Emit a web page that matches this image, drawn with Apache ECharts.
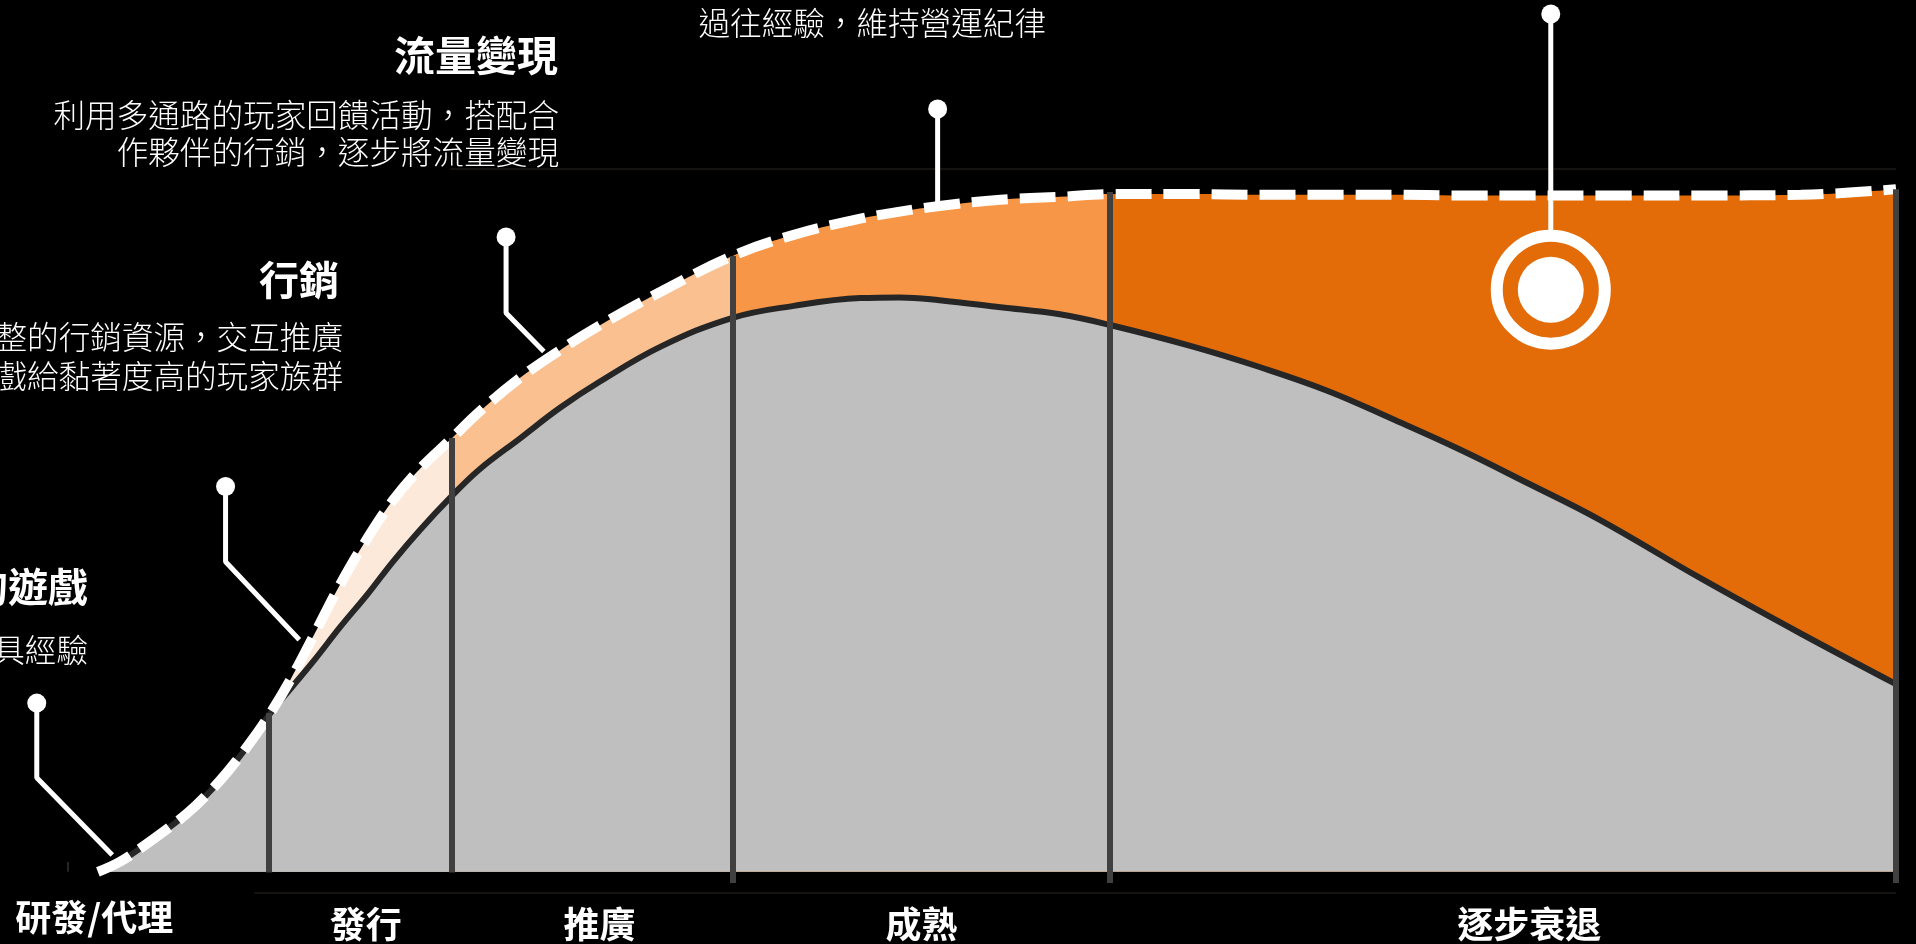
<!DOCTYPE html>
<html lang="zh-Hant-TW">
<head>
<meta charset="utf-8">
<script src="https://cdn.jsdelivr.net/npm/echarts@6/dist/echarts.min.js"></script>
<style>
html,body{margin:0;padding:0;background:#000;}
#c{width:1916px;height:944px;}
</style>
</head>
<body>
<div id="c" lang="zh-Hant-TW"></div>
<script>
// ---- data ----
const timeX = [0,1.2,2.5,3.7,5.0,6.1,7.2,8.5,9.6,10.7,12.0,13.5,15.0,16.4,17.9,19.7,21.2,23.5,25.7,27.9,31.3,35.3,38.7,42.4,44.6,46.8,50.2,53.5,56.4,60.9,64.6,68.4,72.0,75.8,79.5,83.5,89.1,94.7,100];
const potential = [0,1.4,3.6,5.8,8.4,11.1,14.2,18.5,22.6,27.3,33.6,41.0,47.5,52.8,57.3,61.7,65.4,70.3,74.2,77.7,82.5,87.6,90.6,92.9,93.9,94.7,95.6,96.0,96.4,96.4,96.3,96.3,96.3,96.2,96.2,96.2,96.2,96.3,97.1];
const base = [0,1.4,3.6,5.8,8.4,11.1,14.2,18.5,22.6,26.0,30.0,34.9,39.5,44.1,48.6,53.5,57.2,61.7,66.0,69.7,74.7,78.8,80.5,81.6,81.7,81.3,80.3,79.3,77.7,74.7,71.8,68.4,64.4,60.0,55.3,50.1,41.8,33.9,26.7];
const stageNames = ['研發/代理','發行','推廣','成熟','逐步衰退'];
const stageBounds = [9.5,19.7,35.3,56.3,100];
const stageTop = [22.6,61.7,87.6,96.7,97.1];
const stageBottom = [-0.1,-0.1,-1.6,-1.6,-1.6];
const stageColors = ['#BFBFBF','#FDE9D9','#FAC090','#F79646','#E36C09'];
const callouts = [
  [[-3.4,24.0],[-3.4,13.4],[0.8,2.4]],
  [[7.1,54.8],[7.1,44.1],[11.2,33.0]],
  [[22.7,90.3],[22.7,79.5],[24.8,74.0]],
  [[46.7,108.5],[46.7,95.2]],
  [[80.8,122.0],[80.8,91.3]]
];
const target = [80.8,82.8];

// ---- layout ----
const FONT = '"Noto Sans CJK TC","Noto Sans CJK SC",sans-serif';
const LIGHT = '"Noto Sans CJK TC Light","Noto Sans CJK TC DemiLight","Noto Sans CJK TC","Noto Sans CJK SC",sans-serif';
const stageLabelAt = [-0.2,14.9,27.9,45.8,79.6];
const stageLabelY = [917,924,924,924,924];

const envData = timeX.map((x,i)=>[x,potential[i]]);
const baseData = timeX.map((x,i)=>[x,base[i]]);

const pieces = stageColors.map((c,i)=>{
  const p = {color:c};
  if (i>0) p.gte = stageBounds[i-1];
  if (i<stageColors.length-1) p.lt = stageBounds[i];
  return p;
});

const stageLineData = stageBounds.map((b,i)=>[{coord:[b,stageTop[i]]},{coord:[b,stageBottom[i]]}]);

function txt(text,x,y,size,weight,fam){
  return {type:'text',x:x,y:y,silent:true,z:100,
    style:{text:text,fill:'#fff',font:weight+' '+size+'px '+(fam||FONT),textAlign:'right',textVerticalAlign:'middle'}};
}

const SMOOTH = 0.4;
const series = [
  {type:'line',name:'potential-area',data:envData,smooth:SMOOTH,symbol:'none',z:1,
   lineStyle:{width:0},areaStyle:{opacity:1},silent:true},
  {type:'line',name:'base',data:baseData,smooth:SMOOTH,symbol:'none',z:2,
   lineStyle:{color:'#262626',width:6},areaStyle:{color:'#BFBFBF',opacity:1},silent:true},
  {type:'line',name:'stages',data:[],z:3,silent:true,clip:false,
   markLine:{silent:true,symbol:['none','none'],label:{show:false},animation:false,
     lineStyle:{color:'#404040',width:6,type:'solid'},
     data:stageLineData.concat([
       [{coord:[19.6,100],lineStyle:{color:'#1d1814',width:1.5}},{coord:[100,100]}],
       [{coord:[8.7,-3],lineStyle:{color:'#1d1814',width:1.5}},{coord:[100,-3]}],
       [{coord:[-1.7,1.4],lineStyle:{color:'#333',width:1.5}},{coord:[-1.7,0]}]
     ])}},
  {type:'line',name:'potential',data:envData,smooth:SMOOTH,symbol:'none',z:4,
   lineStyle:{color:'#fff',width:10,type:[36,12]},silent:true}
];
callouts.forEach((c,k)=>{
  series.push({type:'line',name:'callout'+k,data:c,z:5,clip:false,silent:true,
    showSymbol:true,showAllSymbol:true,symbol:'circle',
    symbolSize:(v,p)=>p.dataIndex===0?19:0,
    itemStyle:{color:'#fff'},lineStyle:{color:'#fff',width:5}});
});
series.push({type:'scatter',name:'ring',data:[target],z:6,clip:false,silent:true,symbol:'circle',symbolSize:108,
  itemStyle:{color:'rgba(0,0,0,0)',borderColor:'#fff',borderWidth:12,opacity:1}});
series.push({type:'scatter',name:'dot',data:[target],z:7,clip:false,silent:true,symbol:'circle',symbolSize:66,
  itemStyle:{color:'#fff',opacity:1}});

const chart = echarts.init(document.getElementById('c'),null,{renderer:'canvas'});
chart.setOption({
  backgroundColor:'#000',
  animation:false,
  grid:{left:8,right:2,top:0,bottom:37},
  xAxis:{type:'value',min:-5,max:101,axisLine:{show:false},axisTick:{show:false},axisLabel:{show:false},splitLine:{show:false}},
  yAxis:{type:'value',min:-5,max:124,axisLine:{show:false},axisTick:{show:false},axisLabel:{show:false},splitLine:{show:false}},
  visualMap:{type:'piecewise',show:false,dimension:0,seriesIndex:0,pieces:pieces},
  series:series
});

const graphics = [
  txt('流量變現',558,55,41,'bold'),
  txt('利用多通路的玩家回饋活動，搭配合',559,115,31.6,'300',LIGHT),
  txt('作夥伴的行銷，逐步將流量變現',559,152,31.6,'300',LIGHT),
  txt('過往經驗，維持營運紀律',1046,23,31.6,'300',LIGHT),
  txt('行銷',339,280,40,'bold'),
  txt('整的行銷資源，交互推廣',343,337,31.6,'300',LIGHT),
  txt('戲給黏著度高的玩家族群',343,376,31.6,'300',LIGHT),
  txt('的遊戲',88,587,40,'bold'),
  txt('具經驗',88,650,31.6,'300',LIGHT)
];
stageNames.forEach((n,i)=>{
  const px = chart.convertToPixel({gridIndex:0},[stageLabelAt[i],0])[0];
  graphics.push({type:'text',x:px,y:stageLabelY[i],silent:true,z:100,
    style:{text:n,fill:'#fff',font:'bold 36px '+FONT,textAlign:'center',textVerticalAlign:'middle'}});
});
chart.setOption({graphic:graphics});
</script>
</body>
</html>
